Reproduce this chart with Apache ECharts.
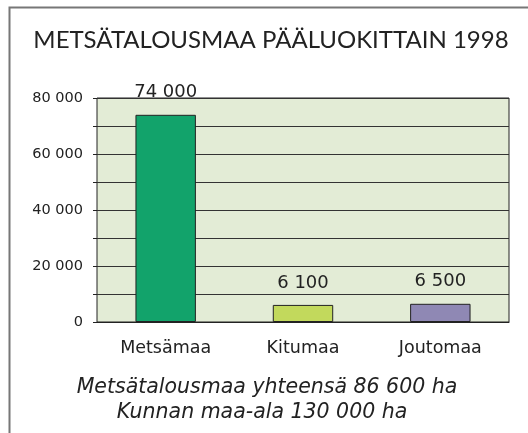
<!DOCTYPE html>
<html>
<head>
<meta charset="utf-8">
<style>html,body{margin:0;padding:0;background:#fff;}#c{width:528px;height:433px;}</style>
<script src="https://cdn.jsdelivr.net/npm/echarts@6/dist/echarts.min.js"></script>
</head>
<body>
<div id="c"></div>
<script>
const titleText = 'METSÄTALOUSMAA PÄÄLUOKITTAIN 1998';
const categories = ['Metsämaa', 'Kitumaa', 'Joutomaa'];
const values = [74000, 6100, 6500];
const barColors = ['#12a36b', '#c2d95c', '#8f88b4'];
const footnotes = ['Metsätalousmaa yhteensä 86 600 ha', 'Kunnan maa-ala 130 000 ha'];
const yMin = 0, yMax = 80000, yStep = 10000, yLabelStep = 20000;

function fmt(v){ return String(v).replace(/\B(?=(\d{3})+(?!\d))/g, ' '); }

const FONT = 'Lato';
const FONT2 = '"DejaVu Sans"';
const chart = echarts.init(document.getElementById('c'), null, {renderer:'canvas'});
chart.setOption({
  animation: false,
  backgroundColor: '#fff',
  grid: { left: 97, right: 19, top: 98, bottom: 111, show: true, backgroundColor: '#e3ecd6', borderColor: '#222', borderWidth: 1 },
  xAxis: {
    type: 'category', data: categories,
    axisLine: { show: true, lineStyle: { color: '#222', width: 1 } },
    axisTick: { show: false },
    axisLabel: { color: '#222', fontFamily: 'DejaVu Sans', fontSize: 17.5, margin: 17 }
  },
  yAxis: {
    type: 'value', min: yMin, max: yMax, interval: yStep,
    axisLine: { show: false },
    axisTick: { show: true, length: 4, lineStyle: { color: '#222' } },
    splitLine: { show: true, lineStyle: { color: '#333', width: 1 } },
    axisLabel: { color: '#222', fontFamily: 'DejaVu Sans', fontSize: 14.5, margin: 14,
      formatter: v => (v % yLabelStep === 0 ? fmt(v) : '') }
  },
  series: [{
    type: 'bar',
    data: values.map((v, i) => ({ value: v, itemStyle: { color: barColors[i] } })),
    barWidth: '44%',
    itemStyle: { borderColor: '#222', borderWidth: 1 },
    label: { show: true, position: 'top', distance: 13, color: '#222', fontFamily: 'DejaVu Sans', fontSize: 18,
      formatter: p => fmt(p.value) }
  }],
  graphic: [
    { type: 'rect', left: 7, top: 5, shape: { width: 600, height: 600 }, style: { fill: null, stroke: '#777', lineWidth: 2 }, silent: true, z: -1 },
    { type: 'text', x: 271, y: 40, style: { text: titleText, fill: '#222', font: '24px ' + FONT, textAlign: 'center', textVerticalAlign: 'middle' } },
    { type: 'text', x: 267, y: 388, style: { text: footnotes[0], fill: '#222', font: 'italic 20.5px ' + FONT2, textAlign: 'center', textVerticalAlign: 'middle' } },
    { type: 'text', x: 262, y: 413, style: { text: footnotes[1], fill: '#222', font: 'italic 20.5px ' + FONT2, textAlign: 'center', textVerticalAlign: 'middle' } }
  ]
});
</script>
</body>
</html>
